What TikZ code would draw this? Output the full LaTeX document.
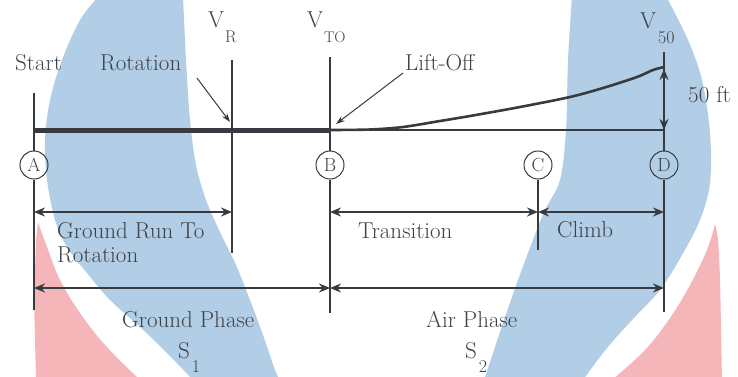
\documentclass[tikz,border=0pt]{standalone}
\usepackage{fontspec}
\newcommand\lserif{\rmfamily}
\newcommand\lblsize{\fontsize{23}{25}\selectfont}
\newcommand\circsize{\fontsize{19}{19}\selectfont}
\newcommand\subsize{\fontsize{17}{17}\selectfont}
\usetikzlibrary{arrows.meta}
\definecolor{swblue}{RGB}{178,206,230}
\definecolor{swpink}{RGB}{245,182,186}
\definecolor{ink}{RGB}{55,58,62}
\definecolor{txt}{RGB}{62,66,72}
\tikzset{
  lbl/.style={font=\lserif\lblsize, text=txt, inner sep=0pt, anchor=base west},
  circ/.style={circle, draw=ink, line width=1pt, minimum size=28pt, inner sep=0pt,
    font=\lserif\circsize, text=txt},
  vline/.style={draw=ink, line width=2.2pt},
  dimarrow/.style={draw=ink, line width=2pt,
    {Stealth[length=11pt,width=9pt]}-{Stealth[length=11pt,width=9pt]}},
  pointer/.style={draw=ink, line width=1pt, -{Stealth[length=9pt,width=6pt]}}
}
\begin{document}
\begin{tikzpicture}[x=1pt,y=-1pt]
\useasboundingbox (0,0) rectangle (738,376);
\begin{scope}
\clip (0,0) rectangle (738,376);
% background swooshes
\fill[swblue] plot[smooth, tension=0.55] coordinates {(99,-4) (80,20) (62,60) (50,100) (45,140) (47,180) (55,220) (67,247) (87,273) (110,300) (140,327) (167,353) (193,380)}
  -- plot[smooth, tension=0.55] coordinates {(280,380) (275,370) (263,335) (250,300) (236,265) (220,232) (206,200) (196,165) (190,120) (186,60) (183,-4)} -- cycle;
\fill[swpink] plot[smooth, tension=0.6] coordinates {(38,222) (47,247) (60,280) (80,313) (105,345) (140,380)}
  -- (36,380) -- (34,300) -- (36,240) -- cycle;
\fill[swblue] plot[smooth, tension=0.55] coordinates {(572,-4) (568,60) (566,130) (560,180) (545,210) (531,245) (518,280) (504,320) (493,353) (484,380)}
  -- plot[smooth, tension=0.55] coordinates {(583,380) (607,348) (632,320) (660,290) (682,255) (700,220) (710,183) (710,133) (702,80) (688,40) (666,-4)} -- cycle;
\fill[swpink] plot[smooth, tension=0.6] coordinates {(715,224) (707,250) (690,285) (670,318) (645,350) (612,380)}
  -- (722,380) -- plot[smooth, tension=0.6] coordinates {(721,330) (720,280) (718,240) (715,224)} -- cycle;
\end{scope}

% station circles
\node[circ] (A) at (34,165) {A};
\node[circ] (B) at (330,165) {B};
\node[circ] (C) at (538,165) {C};
\node[circ] (D) at (664,165) {D};

% coordinates
\coordinate (Atop) at (34,93);   \coordinate (Abot) at (34,310);  \coordinate (Amid) at (34,130);
\coordinate (Rtop) at (232,60);  \coordinate (Rbot) at (232,253); \coordinate (Rmid) at (232,130);
\coordinate (Btop) at (330,57);  \coordinate (Bbot) at (330,313); \coordinate (Bmid) at (330,130);
\coordinate (Cbot) at (538,250);
\coordinate (Dtop) at (664,52);  \coordinate (Dbot) at (664,312); \coordinate (Dmid) at (664,130);
\coordinate (Dpeak) at (664,69);
\coordinate (a1) at (34,212); \coordinate (r1) at (232,212); \coordinate (b1) at (330,212);
\coordinate (c1) at (538,212); \coordinate (d1) at (664,212);
\coordinate (a2) at (34,288); \coordinate (b2) at (330,288); \coordinate (d2) at (664,288);

% vertical lines
\draw[vline] (Atop) -- (A.north) (A.south) -- (Abot);
\draw[vline] (Rtop) -- (Rbot);
\draw[vline] (Btop) -- (B.north) (B.south) -- (Bbot);
\draw[vline] (C.south) -- (Cbot);
\draw[vline] (Dtop) -- (D.north) (D.south) -- (Dbot);

% runway / ground line
\draw[ink, line width=5pt] (Amid) -- (Bmid);
\draw[ink, line width=2.4pt] (Bmid) -- (Dmid);

% flight path
\draw[ink, line width=2.6pt, line cap=round] plot[smooth, tension=0.5] coordinates {(330,130) (370,129.5) (403,127) (440,121) (470,116) (520,107) (570,97) (603,88) (637,77) (653,70) (664,67)};

% 50 ft
\draw[dimarrow] (Dpeak) -- (Dmid);
\node[lbl] (ft) at (688,102) {50 ft};

% top labels
\node[lbl] (start) at (15,70) {Start};
\node[lbl] (rot) at (100,70) {Rotation};
\node[lbl] (lift) at (405,70) {Lift-Off};
\node[lbl] (vr) at (208,27) {V\hspace{1pt}\raisebox{-15pt}{\subsize R}};
\node[lbl] (vto) at (307,27) {V\hspace{1pt}\raisebox{-15pt}{\fontsize{15.5}{15.5}\selectfont TO}};
\node[lbl] (v50) at (640,28) {V\hspace{2pt}\raisebox{-15pt}{\fontsize{18}{18}\selectfont 50}};

\coordinate (rotTail) at (197,78); \coordinate (rotHead) at (230,122);
\coordinate (liftTail) at (403,73); \coordinate (liftHead) at (336,124);
\draw[pointer] (rotTail) -- (rotHead);
\draw[pointer] (liftTail) -- (liftHead);

% dimension arrows
\draw[dimarrow] (a1) -- (r1);
\draw[dimarrow] (b1) -- (c1);
\draw[dimarrow] (c1) -- (d1);
\draw[dimarrow] (a2) -- (b2);
\draw[dimarrow] (b2) -- (d2);

% segment labels
\node[lbl] (grr) at (57,238) {Ground Run To};
\node[lbl] (grr2) at (57,262) {Rotation};
\node[lbl] (trans) at (358,238) {Transition};
\node[lbl] (climb) at (557,237) {Climb};
\node[lbl] (gp) at (122,327) {Ground Phase};
\node[lbl] (ap) at (426,327) {Air Phase};
\node[lbl] (s1) at (178,358) {S\hspace{2pt}\raisebox{-14pt}{\fontsize{18}{18}\selectfont 1}};
\node[lbl] (s2) at (465,358) {S\hspace{2pt}\raisebox{-14pt}{\fontsize{18}{18}\selectfont 2}};
\end{tikzpicture}
\end{document}
